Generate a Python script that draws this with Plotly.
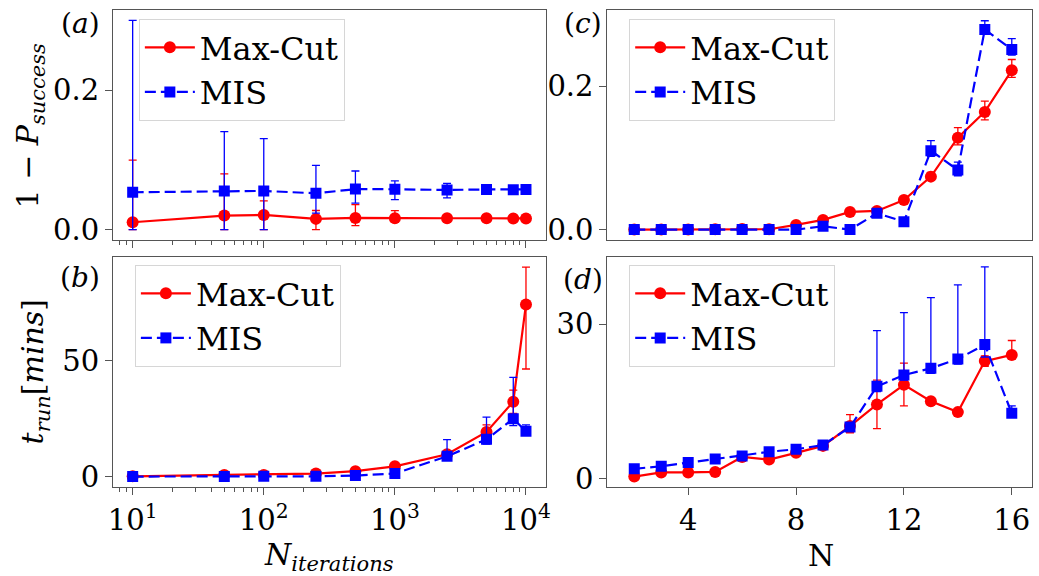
import plotly.graph_objects as go

# ---------------- data ----------------
n_iter = [10, 50, 100, 250, 500, 1000, 2500, 5000, 8000, 10000]

# (a) 1 - P_success vs N_iterations
maxcut_p = [0.0105, 0.020, 0.021, 0.0153, 0.0167, 0.0162, 0.0162, 0.0162, 0.0160, 0.0160]
maxcut_p_hi = [0.089, 0.060, 0.020, 0.012, 0.019, 0.011, 0.002, 0.002, 0.001, 0.001]
maxcut_p_lo = [0.0105, 0.020, 0.021, 0.0153, 0.011, 0.006, 0.002, 0.002, 0.001, 0.001]
mis_p = [0.0535, 0.0554, 0.0554, 0.0520, 0.0580, 0.0578, 0.0568, 0.0575, 0.0570, 0.0575]
mis_p_hi = [0.2465, 0.085, 0.075, 0.040, 0.026, 0.012, 0.0095, 0.002, 0.002, 0.002]
mis_p_lo = [0.0535, 0.0554, 0.0554, 0.0285, 0.020, 0.015, 0.0115, 0.002, 0.002, 0.002]

# (b) t_run vs N_iterations
maxcut_t = [0.1, 0.7, 0.7, 1.3, 2.3, 4.4, 9.6, 19.2, 32.2, 74.1]
maxcut_t_hi = [0, 0, 0, 0.3, 0.5, 0.8, 1.5, 3.0, 5.0, 16.0]
maxcut_t_lo = [0, 0, 0, 0.3, 0.5, 0.8, 1.5, 3.0, 5.0, 27.8]
mis_t = [0.0, 0.0, 0.1, 0.1, 0.4, 1.3, 8.7, 16.0, 24.9, 19.5]
mis_t_hi = [0, 0, 0, 0.2, 0.5, 1.0, 7.2, 9.6, 17.8, 2.7]
mis_t_lo = [0, 0, 0, 0.1, 0.4, 1.0, 1.5, 2.0, 3.0, 1.5]

# (c) 1 - P_success vs N
n_vals = [2, 3, 4, 5, 6, 7, 8, 9, 10, 11, 12, 13, 14, 15, 16]
maxcut_c = [0, 0, 0, 0.0005, 0.001, 0.0005, 0.0065, 0.0135, 0.0246, 0.026, 0.0413, 0.0738, 0.128, 0.164, 0.222]
maxcut_c_hi = [0, 0, 0, 0, 0, 0, 0.001, 0.002, 0.002, 0.002, 0.003, 0.006, 0.014, 0.015, 0.015]
maxcut_c_lo = [0, 0, 0, 0, 0, 0, 0.001, 0.002, 0.002, 0.002, 0.003, 0.005, 0.010, 0.011, 0.010]
mis_c = [0, 0, 0, 0, 0, 0, 0, 0.0046, 0, 0.0227, 0.011, 0.110, 0.083, 0.279, 0.251]
mis_c_hi = [0, 0, 0, 0, 0, 0, 0, 0.002, 0, 0.003, 0.002, 0.014, 0.011, 0.012, 0.015]
mis_c_lo = [0, 0, 0, 0, 0, 0, 0, 0.002, 0, 0.003, 0.002, 0.008, 0.008, 0.006, 0.008]

# (d) t_run vs N
maxcut_d = [0.4, 1.2, 1.2, 1.3, 4.2, 3.7, 5.0, 6.35, 10.2, 14.4, 18.2, 15.0, 12.9, 22.8, 24.0]
maxcut_d_hi = [0, 0, 0, 0, 0.3, 0.3, 0.3, 0.5, 2.2, 4.7, 4.2, 0.5, 0.5, 1.0, 2.8]
maxcut_d_lo = [0, 0, 0, 0, 0.3, 0.3, 0.3, 0.5, 1.3, 4.7, 4.1, 0.5, 0.5, 1.0, 0.5]
mis_d = [1.9, 2.4, 3.1, 3.8, 4.4, 5.2, 5.7, 6.5, 10.0, 17.9, 20.1, 21.4, 23.2, 26.0, 12.7]
mis_d_hi = [0, 0, 0, 0, 0, 0, 0, 0.3, 0.5, 10.8, 12.1, 13.7, 14.4, 15.1, 1.4]
mis_d_lo = [0, 0, 0, 0, 0, 0, 0, 0.3, 0.5, 1.0, 1.0, 1.0, 1.0, 2.4, 0.8]

ytick_a = [0.0, 0.2]
ytick_b = [0, 50]
ytick_c = [0.0, 0.2]
ytick_d = [0, 30]
xtick_log = [10, 100, 1000, 10000]
xtick_log_text = ["10<sup>1</sup>", "10<sup>2</sup>", "10<sup>3</sup>", "10<sup>4</sup>"]
xtick_n = [4, 8, 12, 16]

# ---------------- style ----------------
FONT = "DejaVu Serif"
RED = "#ff0000"
BLUE = "#0000ff"
SPINE = "#555555"


def add_pair(fig, x, y1, y1h, y1l, y2, y2h, y2l, xa, ya, legend):
    fig.add_trace(go.Scatter(
        x=x, y=y1, mode="lines+markers", name="Max-Cut",
        line=dict(color=RED, width=2.2),
        marker=dict(symbol="circle", size=12, color=RED),
        error_y=dict(type="data", symmetric=False, array=y1h, arrayminus=y1l,
                     color=RED, thickness=1.3, width=4),
        xaxis=xa, yaxis=ya, legend=legend, showlegend=True))
    fig.add_trace(go.Scatter(
        x=x, y=y2, mode="lines+markers", name="MIS",
        line=dict(color=BLUE, width=2.2, dash="11px,5px"),
        marker=dict(symbol="square", size=11, color=BLUE),
        error_y=dict(type="data", symmetric=False, array=y2h, arrayminus=y2l,
                     color=BLUE, thickness=1.3, width=4),
        xaxis=xa, yaxis=ya, legend=legend, showlegend=True))


fig = go.Figure()
add_pair(fig, n_iter, maxcut_p, maxcut_p_hi, maxcut_p_lo, mis_p, mis_p_hi, mis_p_lo, "x", "y", "legend")
add_pair(fig, n_iter, maxcut_t, maxcut_t_hi, maxcut_t_lo, mis_t, mis_t_hi, mis_t_lo, "x2", "y2", "legend2")
add_pair(fig, n_vals, maxcut_c, maxcut_c_hi, maxcut_c_lo, mis_c, mis_c_hi, mis_c_lo, "x3", "y3", "legend3")
add_pair(fig, n_vals, maxcut_d, maxcut_d_hi, maxcut_d_lo, mis_d, mis_d_hi, mis_d_lo, "x4", "y4", "legend4")

W, H = 1039, 576
ML, MR, MT, MB = 113, 2, 10, 89
PW, PH = W - ML - MR, H - MT - MB


def px_x(p):
    return (p - ML) / PW


def px_y(p):
    return (H - MB - p) / PH


left_dom = [0, px_x(548)]
right_dom = [px_x(610), 1]
top_dom = [px_y(240), 1]
bot_dom = [0, px_y(257)]

base_axis = dict(showline=True, linecolor=SPINE, linewidth=1, mirror=True,
                 ticks="outside", ticklen=7, tickwidth=1, tickcolor=SPINE,
                 showgrid=False, zeroline=False,
                 tickfont=dict(family=FONT, size=29, color="black"))

log_minor = dict(ticks="outside", ticklen=4, tickwidth=1, tickcolor=SPINE, dtick="D1", showgrid=False)

fig.update_layout(
    width=W, height=H,
    margin=dict(l=ML, r=MR, t=MT, b=MB),
    plot_bgcolor="white", paper_bgcolor="white",
    xaxis=dict(base_axis, type="log", domain=left_dom, anchor="y", range=[0.85, 4.15],
               tickmode="array", tickvals=xtick_log, ticktext=xtick_log_text,
               showticklabels=False, minor=log_minor),
    yaxis=dict(base_axis, domain=top_dom, anchor="x", range=[-0.015, 0.315],
               tickmode="array", tickvals=ytick_a, tickformat=".1f"),
    xaxis2=dict(base_axis, type="log", domain=left_dom, anchor="y2", range=[0.85, 4.15],
                tickmode="array", tickvals=xtick_log, ticktext=xtick_log_text, minor=log_minor),
    yaxis2=dict(base_axis, domain=bot_dom, anchor="x2", range=[-4.5, 94.5],
                tickmode="array", tickvals=ytick_b),
    xaxis3=dict(base_axis, domain=right_dom, anchor="y3", range=[1.0, 16.75],
                ticks="", showticklabels=False),
    yaxis3=dict(base_axis, domain=top_dom, anchor="x3", range=[-0.0145, 0.306],
                tickmode="array", tickvals=ytick_c, tickformat=".1f"),
    xaxis4=dict(base_axis, domain=right_dom, anchor="y4", range=[1.0, 16.75],
                tickmode="array", tickvals=xtick_n),
    yaxis4=dict(base_axis, domain=bot_dom, anchor="x4", range=[-1.63, 43.0],
                tickmode="array", tickvals=ytick_d),
)

leg_style = dict(font=dict(family=FONT, size=32, color="black"),
                 bgcolor="rgba(255,255,255,0.8)", bordercolor="#d6d6d6", borderwidth=1,
                 xanchor="left", yanchor="top", itemwidth=50, tracegroupgap=0)
fig.update_layout(
    legend=dict(leg_style, x=px_x(139), y=px_y(19)),
    legend2=dict(leg_style, x=px_x(135), y=px_y(265)),
    legend3=dict(leg_style, x=px_x(632), y=px_y(19)),
    legend4=dict(leg_style, x=px_x(632), y=px_y(265)),
)

ann_font = dict(family=FONT, size=28, color="black")
title_font = dict(family=FONT, size=30, color="black")
annotations = [
    dict(text="(<i>a</i>)", x=px_x(80), y=px_y(23)),
    dict(text="(<i>b</i>)", x=px_x(80), y=px_y(277)),
    dict(text="(<i>c</i>)", x=px_x(586), y=px_y(23)),
    dict(text="(<i>d</i>)", x=px_x(586), y=px_y(279)),
]
for a in annotations:
    fig.add_annotation(a, xref="paper", yref="paper", showarrow=False,
                       xanchor="center", yanchor="middle", font=ann_font)

fig.add_annotation(text="1 − <i>P</i><sub><i>success</i></sub>", x=px_x(30), y=px_y(125),
                   textangle=-90, xref="paper", yref="paper", showarrow=False,
                   xanchor="center", yanchor="middle", font=title_font)
fig.add_annotation(text="<i>t</i><sub><i>run</i></sub>[<i>mins</i>]", x=px_x(34), y=px_y(372),
                   textangle=-90, xref="paper", yref="paper", showarrow=False,
                   xanchor="center", yanchor="middle", font=title_font)
fig.add_annotation(text="<i>N</i><sub><i>iterations</i></sub>", x=px_x(330), y=px_y(556),
                   xref="paper", yref="paper", showarrow=False,
                   xanchor="center", yanchor="middle", font=title_font)
fig.add_annotation(text="N", x=px_x(825), y=px_y(555),
                   xref="paper", yref="paper", showarrow=False,
                   xanchor="center", yanchor="middle", font=title_font)

fig.write_html("out.html", config={"displayModeBar": False},
               post_script="document.body.style.margin='0px';document.body.style.overflow='hidden';")
